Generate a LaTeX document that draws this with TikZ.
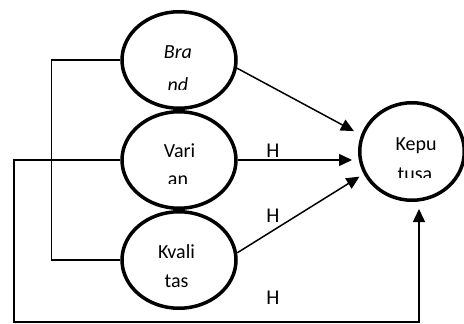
\documentclass[tikz,border=0pt]{standalone}
\usepackage{fontspec}
\setmainfont{Carlito}
\usetikzlibrary{arrows.meta,shapes.geometric}

\begin{document}
\begin{tikzpicture}[x=1pt, y=-1pt, node distance = 100pt,
  var/.style = {ellipse, draw, line width=3.5pt, minimum width=114pt, minimum height=96.5pt},
  txt/.style = {anchor=base, inner sep=0pt, font=\fontsize{20}{24}\selectfont},
  hyp/.style = {anchor=base, inner sep=0pt, font=\fontsize{21}{25}\selectfont},
  arr/.style = {line width=1.5pt, -{Triangle[length=13pt,width=12pt]}}]
\useasboundingbox (0,0) rectangle (464,324);

\node[var] (brand) at (179,60) {};
\node[var] (varian) [below of = brand] {};
\node[var] (kval) [below of = varian] {};
\node[var, minimum width=104.5pt, minimum height=97.5pt] (kepu) at (412,151.5) {};

% texts, second lines cut off
\begin{scope}
\clip (100,0) rectangle (260,89);
\node[txt] (brand_1) at (178,58) {\itshape Bra};
\node[txt] (brand_2) at (178,91) {\itshape nd};
\end{scope}
\begin{scope}
\clip (100,100) rectangle (260,183);
\node[txt] (varian_1) at (179.5,157) {Vari};
\node[txt] (varian_2) at (178,185) {an};
\end{scope}
\node[txt] (kval_1) at (176.5,258) {Kvali};
\node[txt] (kval_2) at (176.5,287) {tas};
\begin{scope}
\clip (340,100) rectangle (464,177);
\node[txt] (kepu_1) at (416,150) {Kepu};
\node[txt] (kepu_2) at (415,180) {tusa};
\end{scope}

\node[hyp] (h_1) at (273,157) {H};
\node[hyp] (h_2) at (273,222) {H};
\node[hyp] (h_3) at (273,304) {H};

\coordinate (corner) at (14,322);
\draw[line width=1.5pt] (brand.west) -- ++(-69,0) |- (kval.west);
\draw[arr, shorten >=7pt] (varian.west) -| (corner) -| ([xshift=7pt]kepu.south);
\draw[arr, shorten >=8pt] (brand.-8) -- (kepu.162);
\draw[arr, shorten >=6pt] (varian.east) -- (kepu.west |- varian);
\draw[arr, shorten >=5pt] (kval.7) -- (kepu.205);
\end{tikzpicture}
\end{document}
